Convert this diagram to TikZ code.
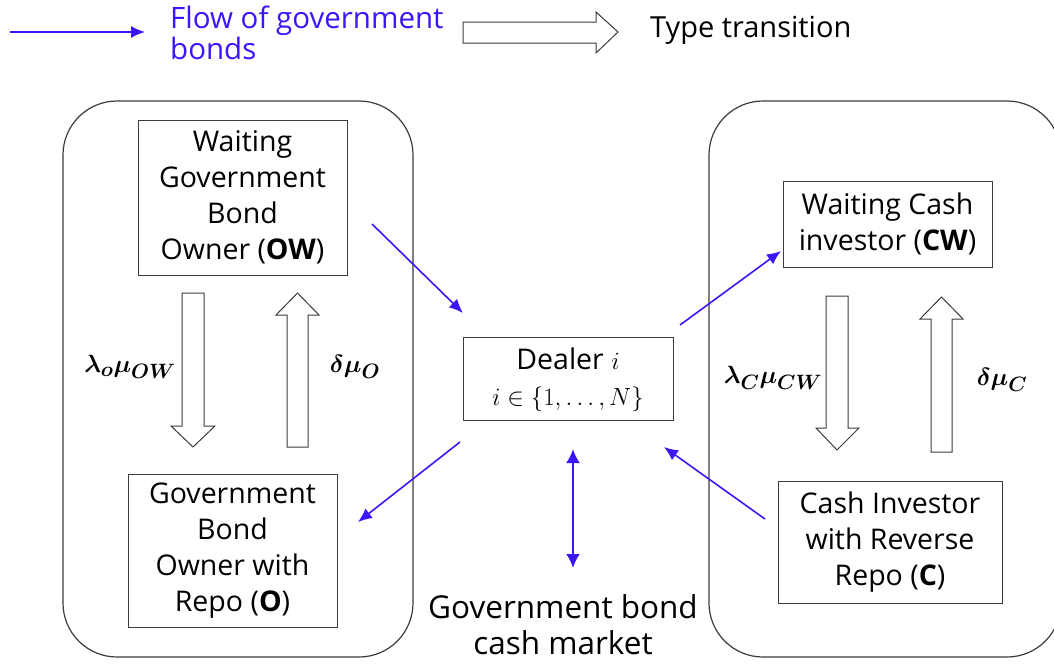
\documentclass[tikz,border=0pt]{standalone}
\usepackage{amsmath,bm}
\usepackage{fontspec}
\setmainfont{Open Sans}
\usetikzlibrary{arrows.meta}
\definecolor{flowblue}{RGB}{58,22,250}
\definecolor{frame}{RGB}{60,60,60}
\tikzset{
  txt/.style={font=\fontsize{28.5}{36}\selectfont, align=center, inner sep=0pt},
  agent/.style={draw=frame, line width=1pt, fill=white, inner sep=0pt},
  group/.style={draw=frame, line width=1.2pt, rounded corners=54pt},
  flow/.style={draw=flowblue, line width=1.6pt, -{Latex[length=14pt,width=12pt]}},
  biflow/.style={draw=flowblue, line width=2.4pt, {Latex[length=14pt,width=14pt]}-{Latex[length=14pt,width=14pt]}},
  hollow/.style={draw=frame, line width=1pt, fill=white, line join=miter},
  rate/.style={font=\fontsize{29}{34}\selectfont, inner sep=0pt}
}
\begin{document}
\begin{tikzpicture}[x=1pt,y=-1pt]
\useasboundingbox (0,0) rectangle (1054,664);
\clip (0,0) rectangle (1054,664);

% legend
\coordinate (legA) at (10,32);
\coordinate (legB) at (145,32);
\draw[flow] (legA) -- (legB);
\node[txt, font=\fontsize{29.5}{31}\selectfont, text=flowblue, anchor=west, align=left] (legflow) at (170,33) {Flow of government\\bonds};
\draw[hollow] (463,22) -- (596,22) -- (596,12) -- (618,32) -- (596,53) -- (596,43) -- (463,43) -- cycle;
\node[txt, font=\fontsize{29}{36}\selectfont, anchor=west] (legtype) at (650,30) {Type transition};

% the two groups of agents
\draw[group] (63,101) rectangle (413,657);
\draw[group] (709,101) rectangle (1061,657);

% agent boxes
\node[agent, minimum width=209pt, minimum height=155pt] (OW) at (242.5,197.5) {};
\node[txt] at (OW) {Waiting\\Government\\Bond\\Owner (\textbf{OW})};
\node[agent, minimum width=209pt, minimum height=153pt] (O) at (232.5,550.5) {};
\node[txt] at (O) {Government\\Bond\\Owner with\\Repo (\textbf{O})};
\node[agent, minimum width=210pt, minimum height=83pt] (D) at (568,378.5) {};
\node[txt] at ([yshift=-1pt]D) {Dealer $i$\\{\fontsize{24}{36}\selectfont$i\in\{1,\ldots,N\}$}};
\node[agent, minimum width=209pt, minimum height=86pt] (CW) at (887.5,224) {};
\node[txt] at (CW) {Waiting Cash\\investor (\textbf{CW})};
\node[agent, minimum width=224pt, minimum height=122pt] (C) at (890,542) {};
\node[txt] at (C) {Cash Investor\\with Reverse\\Repo (\textbf{C})};

% type transitions (hollow block arrows)
\draw[hollow] (182,293) -- (204,293) -- (204,426) -- (215,426) -- (193,447) -- (171,426) -- (182,426) -- cycle;
\draw[hollow] (287,447) -- (308,447) -- (308,315) -- (319,315) -- (297.5,293) -- (276,315) -- (287,315) -- cycle;
\draw[hollow] (826,296) -- (848,296) -- (848,428) -- (859,428) -- (837,450) -- (816,428) -- (826,428) -- cycle;
\draw[hollow] (931,452) -- (952,452) -- (952,319) -- (963,319) -- (941.5,297) -- (920,319) -- (931,319) -- cycle;

\node[rate] (rOW) at (130,367) {$\bm{\lambda_o\mu_{OW}}$};
\node[rate] (rO) at (355,367) {$\bm{\delta\mu_{O}}$};
\node[rate] (rCW) at (773,378) {$\bm{\lambda_C\mu_{CW}}$};
\node[rate] (rC) at (1002,380) {$\bm{\delta\mu_{C}}$};

% flows of government bonds
\coordinate (f1a) at (372,224);
\coordinate (f1b) at (463,313);
\coordinate (f2a) at (680,325);
\coordinate (f2b) at (781,251);
\coordinate (f3a) at (765,519);
\coordinate (f3b) at (664,447);
\coordinate (f4a) at (460,442);
\coordinate (f4b) at (358,522);
\coordinate (f5a) at (573,449);
\coordinate (f5b) at (573,568);
\draw[flow] (f1a) -- (f1b);
\draw[flow] (f2a) -- (f2b);
\draw[flow] (f3a) -- (f3b);
\draw[flow] (f4a) -- (f4b);
\draw[biflow] (f5a) -- (f5b);

\node[txt, font=\fontsize{31.5}{36}\selectfont] (market) at (563,625) {Government bond\\cash market};
\end{tikzpicture}
\end{document}
